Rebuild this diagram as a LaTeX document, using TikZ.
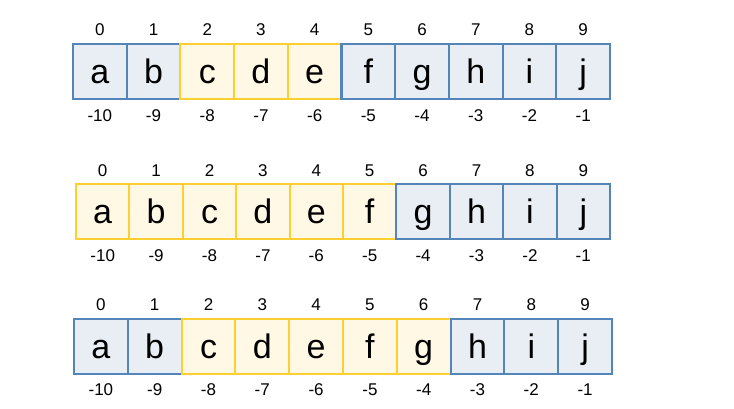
\documentclass[tikz,border=0pt]{standalone}
\usepackage{fontspec}
\setmainfont{Liberation Sans}
\definecolor{bfill}{HTML}{E8EEF4}
\definecolor{bline}{HTML}{5385B8}
\definecolor{yfill}{HTML}{FFF8E5}
\definecolor{yline}{HTML}{FDCF30}
\tikzset{
  cellbase/.style={line width=2.1pt, inner sep=0pt, minimum height=55pt,
    font=\fontsize{34}{40}\selectfont, text height=28pt, text depth=4pt},
  cell0/.style={cellbase, draw=bline, fill=bfill},
  cell1/.style={cellbase, draw=yline, fill=yfill},
  idx/.style={inner sep=0pt, font=\fontsize{17}{20}\selectfont}
}
\begin{document}
\begin{tikzpicture}[x=1pt,y=-1pt]
\useasboundingbox (0,0) rectangle (734,408);
\foreach \R/\Xo/\W/\Ty/\Ya/\Yb/\Lo/\Hi in {1/73/53.7/44/30/116/2/4, 2/76/53.4/184/171/256/0/5, 3/74/53.8/319/305/390/2/6} {
  \foreach \I/\Ch in {0/a,1/b,2/c,3/d,4/e,5/f,6/g,7/h,8/i,9/j} {
    \pgfmathtruncatemacro\Neg{\I-10}
    \pgfmathsetmacro\Cx{\Xo+(\I+0.5)*\W}
    \pgfmathsetmacro\Cy{\Ty+27.5}
    \pgfmathtruncatemacro\Isy{(\I>=\Lo)&&(\I<=\Hi)}
    \node[cell\Isy, minimum width=\W pt] (r\R c\I) at (\Cx,\Cy) {\Ch};
    \node[idx] (t\R c\I) at (\Cx,\Ya) {\I};
    \node[idx] (b\R c\I) at (\Cx,\Yb) {\Neg};
  }
}
\end{tikzpicture}
\end{document}
